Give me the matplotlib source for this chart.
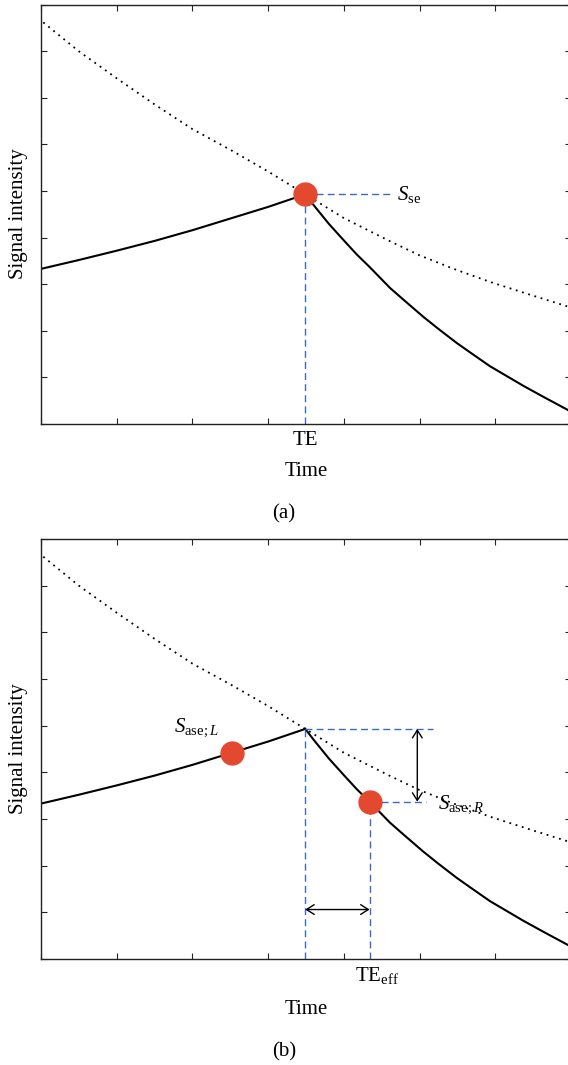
import matplotlib
matplotlib.use("Agg")
import matplotlib.pyplot as plt
from matplotlib.transforms import blended_transform_factory

plt.rcParams['font.family'] = ['Liberation Serif', 'DejaVu Serif']
plt.rcParams['mathtext.fontset'] = 'custom'
plt.rcParams['mathtext.rm'] = 'Liberation Serif'
plt.rcParams['mathtext.it'] = 'Liberation Serif:italic'

# curves (x in tick units 0-7, y in tick units 0-9)
dotted_x = [0.03, 0.5, 1.0, 1.5, 2.0, 2.54, 3.0, 3.49, 4.0, 4.6, 5.0, 5.45, 5.93, 6.45, 6.96, 7.0]
dotted_y = [8.62, 8.00, 7.42, 6.86, 6.33, 5.85, 5.42, 4.93, 4.42, 3.93, 3.62, 3.33, 3.05, 2.78, 2.52, 2.50]
rise_x = [0.0, 0.5, 1.0, 1.5, 2.0, 2.52, 3.0, 3.49]
rise_y = [3.33, 3.52, 3.72, 3.93, 4.16, 4.42, 4.66, 4.93]
decay_x = [3.49, 3.6, 3.8, 4.0, 4.17, 4.34, 4.61, 4.8, 5.05, 5.25, 5.49, 5.7,
           5.93, 6.15, 6.37, 6.65, 6.96, 7.0]
decay_y = [4.93, 4.70, 4.30, 3.94, 3.64, 3.37, 2.92, 2.65, 2.30, 2.04, 1.74, 1.50,
           1.24, 1.03, 0.82, 0.57, 0.30, 0.27]

te = 3.49
s_se = 4.93
te_eff = 4.34
s_left = (2.52, 4.42)
s_right = (4.34, 3.37)

red = '#e2492f'
blue = '#3a6cb8'
fs = 15

fig = plt.figure(figsize=(5.68, 10.65), dpi=100)
W, H = 568.0, 1065.0


def make_axes(top_px, bottom_px):
    ax = fig.add_axes([41 / W, 1 - bottom_px / H, 530 / W, (bottom_px - top_px) / H])
    ax.set_xlim(0, 7)
    ax.set_ylim(0, 9)
    ax.set_xticks(range(8))
    ax.set_yticks(range(10))
    ax.set_xticklabels([])
    ax.set_yticklabels([])
    ax.tick_params(direction='in', length=4, width=0.8, top=True, right=True, color='#222222')
    for s in ax.spines.values():
        s.set_linewidth(1.0)
        s.set_color('#222222')
    ax.plot(dotted_x, dotted_y, color='black', lw=1.3, linestyle=(0, (1, 2.6)))
    ax.plot(rise_x, rise_y, color='black', lw=1.5)
    ax.plot(decay_x, decay_y, color='black', lw=1.5)
    return ax


def dashed(ax, xs, ys):
    ax.plot(xs, ys, color=blue, lw=1.0, dashes=(5, 3), zorder=2)


def arrow(ax, p0, p1):
    ax.annotate('', xy=p1, xytext=p0,
                arrowprops=dict(arrowstyle='<->,head_length=0.55,head_width=0.35',
                                mutation_scale=10, lw=1.0, color='black',
                                shrinkA=0, shrinkB=0))


def xlabel_tick(ax, x, txt, offset):
    tr = blended_transform_factory(ax.transData, ax.transAxes)
    ax.annotate(txt, xy=(x, 0), xycoords=tr, xytext=(0, -offset),
                textcoords='offset points', ha='center', va='center', fontsize=fs)


# panel (a)
ax1 = make_axes(4.7, 424)
dashed(ax1, [te, te], [0, s_se])
dashed(ax1, [te, 4.61], [s_se, s_se])
ax1.plot([te], [s_se], 'o', color=red, ms=16.5, zorder=5)
ax1.text(4.70, s_se, r'$S_{\mathrm{se}}$', fontsize=fs, va='center', ha='left')
xlabel_tick(ax1, te, 'TE', 12)
fig.text(0.5 + 22 / W, 1 - 472 / H, 'Time', fontsize=fs, ha='center', va='center')
fig.text(0.5, 1 - 514 / H, '(a)', fontsize=fs, ha='center', va='center')
fig.text(19 / W, 1 - 214 / H, 'Signal intensity', fontsize=fs, rotation=90, ha='center', va='center')

# panel (b)
ax2 = make_axes(539, 959)
dashed(ax2, [te, te], [0, s_se])
dashed(ax2, [te, 5.18], [s_se, s_se])
dashed(ax2, [te_eff, te_eff], [0, s_right[1]])
dashed(ax2, [te_eff, 5.09], [s_right[1], s_right[1]])
ax2.plot([s_left[0]], [s_left[1]], 'o', color=red, ms=16.5, zorder=5)
ax2.plot([s_right[0]], [s_right[1]], 'o', color=red, ms=16.5, zorder=5)
arrow(ax2, (4.97, s_se), (4.97, s_right[1]))
arrow(ax2, (te, 1.06), (te_eff, 1.06))
ax2.text(1.76, 4.95, r'$S_{\mathrm{ase;}L}$', fontsize=fs, va='center', ha='left')
ax2.text(5.25, 3.30, r'$S_{\mathrm{ase;}R}$', fontsize=fs, va='center', ha='left')
xlabel_tick(ax2, te_eff + 0.1, r'TE$_{\mathrm{eff}}$', 12)
fig.text(0.5 + 22 / W, 1 - 1010 / H, 'Time', fontsize=fs, ha='center', va='center')
fig.text(0.5, 1 - 1052 / H, '(b)', fontsize=fs, ha='center', va='center')
fig.text(19 / W, 1 - 749 / H, 'Signal intensity', fontsize=fs, rotation=90, ha='center', va='center')

fig.savefig('out.png', dpi=100)
